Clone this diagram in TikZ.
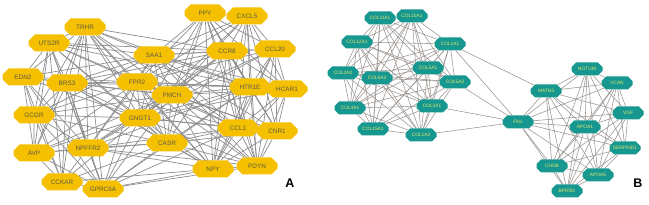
\documentclass[tikz,border=0pt]{standalone}
\usepackage{fontspec}
\setmainfont{Liberation Sans}
\usetikzlibrary{shapes.misc,backgrounds}
\definecolor{geneyel}{HTML}{F5C000}
\definecolor{geneteal}{HTML}{16978F}
\definecolor{yeltext}{HTML}{5E5C4A}
\definecolor{tealtext}{HTML}{E4E86E}
\definecolor{edgegray}{HTML}{8E8E8E}
\definecolor{edgebrown}{HTML}{9A9490}
\tikzset{
  yelgene/.style={chamfered rectangle, chamfered rectangle xsep=6pt, chamfered rectangle ysep=4pt,
    fill=geneyel, draw=none, text=yeltext, font=\fontsize{6.4}{7}\selectfont,
    minimum width=41pt, minimum height=17pt, inner sep=0pt},
  tealgene/.style={chamfered rectangle, chamfered rectangle xsep=4.5pt, chamfered rectangle ysep=3pt,
    fill=geneteal, draw=none, text=tealtext, font=\fontsize{4.8}{5}\selectfont,
    minimum width=31pt, minimum height=13pt, inner sep=0pt},
  alink/.style={draw=edgegray, line width=0.7pt},
  blink/.style={draw=edgebrown, line width=0.55pt},
  panel/.style={font=\fontsize{12.5}{13}\selectfont\bfseries},
}
\begin{document}
\begin{tikzpicture}[x=1pt,y=-1pt]
\useasboundingbox (0,0) rectangle (649,205);
% panel A nodes
\node[yelgene] (trhr) at (85,27) {TRHR};
\node[yelgene] (uts2r) at (49,43) {UTS2R};
\node[yelgene] (saa1) at (154,55) {SAA1};
\node[yelgene] (edn2) at (23,77) {EDN2};
\node[yelgene] (brs3) at (67,83) {BRS3};
\node[yelgene] (fpr2) at (137,82) {FPR2};
\node[yelgene] (pmch) at (172,95) {PMCH};
\node[yelgene] (gcgr) at (34,115) {GCGR};
\node[yelgene] (gngt1) at (140,118) {GNGT1};
\node[yelgene] (avp) at (34,153) {AVP};
\node[yelgene] (npffr2) at (88,148) {NPFFR2};
\node[yelgene] (casr) at (167,143) {CASR};
\node[yelgene] (cckar) at (62,182) {CCKAR};
\node[yelgene] (gprc6a) at (103,189) {GPRC6A};
\node[yelgene] (ppy) at (205,13) {PPY};
\node[yelgene] (cxcl5) at (247,16) {CXCL5};
\node[yelgene] (ccr8) at (227,51) {CCR8};
\node[yelgene] (ccl20) at (275,49) {CCL20};
\node[yelgene] (htr1e) at (250,87) {HTR1E};
\node[yelgene] (hcar1) at (287,89) {HCAR1};
\node[yelgene] (ccl1) at (238,128) {CCL1};
\node[yelgene] (cnr1) at (277,131) {CNR1};
\node[yelgene] (npy) at (213,169) {NPY};
\node[yelgene] (pdyn) at (257,166) {PDYN};
\node[panel] (labA) at (290,183) {A};
% panel B nodes
\node[tealgene] (c11a1) at (380,18) {COL11A1};
\node[tealgene] (c10a1) at (412,16) {COL10A1};
\node[tealgene] (c12a1) at (357,42) {COL12A1};
\node[tealgene] (c1a1) at (450,44) {COL1A1};
\node[tealgene] (c4a2) at (343,73) {COL4A2};
\node[tealgene] (c6a3) at (377,78) {COL6A3};
\node[tealgene] (c5a1) at (428,68) {COL5A1};
\node[tealgene] (c5a2) at (455,82) {COL5A2};
\node[tealgene] (c4a1) at (350,108) {COL4A1};
\node[tealgene] (c3a1) at (432,106) {COL3A1};
\node[tealgene] (c15a1) at (373,129) {COL15A1};
\node[tealgene] (c1a2) at (421,135) {COL1A2};
\node[tealgene] (notum) at (587,69) {NOTUM};
\node[tealgene] (vcan) at (617,83) {VCAN};
\node[tealgene] (matn3) at (546,91) {MATN3};
\node[tealgene] (fn1) at (518,122) {FN1};
\node[tealgene] (vgf) at (628,113) {VGF};
\node[tealgene] (apoa1) at (585,127) {APOA1};
\node[tealgene] (serpind1) at (625,148) {SERPIND1};
\node[tealgene] (chgb) at (552,166) {CHGB};
\node[tealgene] (apoa5) at (598,175) {APOA5};
\node[tealgene] (bpifb2) at (567,191) {BPIFB2};
\node[panel] (labB) at (638,183) {B};
\begin{scope}[on background layer]
% panel A links
\foreach \a/\b in {trhr/uts2r,trhr/edn2,trhr/brs3,trhr/gcgr,trhr/avp,trhr/npffr2,trhr/gprc6a,
  trhr/gngt1,trhr/fpr2,trhr/saa1,trhr/pmch,trhr/casr,trhr/ccr8,trhr/htr1e,trhr/ccl1,trhr/npy,trhr/cckar,
  uts2r/edn2,uts2r/brs3,uts2r/gcgr,uts2r/avp,uts2r/npffr2,uts2r/gngt1,uts2r/fpr2,uts2r/saa1,uts2r/pmch,
  uts2r/casr,uts2r/cckar,uts2r/gprc6a,uts2r/htr1e,uts2r/ccr8,
  edn2/brs3,edn2/gcgr,edn2/avp,edn2/cckar,edn2/npffr2,edn2/gngt1,edn2/fpr2,edn2/pmch,edn2/gprc6a,edn2/saa1,
  brs3/gcgr,brs3/avp,brs3/cckar,brs3/gprc6a,brs3/npffr2,brs3/gngt1,brs3/fpr2,brs3/saa1,brs3/pmch,
  brs3/casr,brs3/ccr8,brs3/htr1e,brs3/ccl1,brs3/npy,
  gcgr/avp,gcgr/cckar,gcgr/gprc6a,gcgr/npffr2,gcgr/gngt1,gcgr/fpr2,gcgr/pmch,gcgr/casr,gcgr/saa1,
  avp/cckar,avp/gprc6a,avp/npffr2,avp/gngt1,avp/casr,avp/fpr2,avp/pmch,
  cckar/gprc6a,cckar/npffr2,cckar/gngt1,cckar/casr,cckar/npy,
  gprc6a/npffr2,gprc6a/gngt1,gprc6a/casr,gprc6a/fpr2,gprc6a/npy,gprc6a/pdyn,gprc6a/ccl1,gprc6a/pmch,gprc6a/htr1e,
  npffr2/gngt1,npffr2/fpr2,npffr2/casr,npffr2/pmch,npffr2/saa1,npffr2/npy,npffr2/pdyn,npffr2/ccl1,
  npffr2/htr1e,npffr2/ccr8,
  gngt1/fpr2,gngt1/saa1,gngt1/pmch,gngt1/casr,gngt1/ppy,gngt1/cxcl5,gngt1/ccr8,gngt1/ccl20,gngt1/htr1e,
  gngt1/hcar1,gngt1/ccl1,gngt1/cnr1,gngt1/npy,gngt1/pdyn,
  fpr2/saa1,fpr2/pmch,fpr2/casr,fpr2/ppy,fpr2/cxcl5,fpr2/ccr8,fpr2/ccl20,fpr2/htr1e,fpr2/hcar1,
  fpr2/ccl1,fpr2/cnr1,fpr2/npy,fpr2/pdyn,
  saa1/pmch,saa1/casr,saa1/ppy,saa1/cxcl5,saa1/ccr8,saa1/ccl20,saa1/htr1e,saa1/hcar1,saa1/ccl1,
  saa1/cnr1,saa1/pdyn,
  pmch/casr,pmch/ppy,pmch/cxcl5,pmch/ccr8,pmch/ccl20,pmch/htr1e,pmch/hcar1,pmch/ccl1,pmch/cnr1,
  pmch/npy,pmch/pdyn,
  casr/ccr8,casr/htr1e,casr/ccl1,casr/npy,casr/pdyn,casr/cnr1,casr/ppy,
  ppy/cxcl5,ppy/ccr8,ppy/ccl20,ppy/htr1e,ppy/hcar1,ppy/ccl1,ppy/cnr1,ppy/npy,ppy/pdyn,
  cxcl5/ccr8,cxcl5/ccl20,cxcl5/htr1e,cxcl5/hcar1,cxcl5/ccl1,cxcl5/cnr1,cxcl5/npy,cxcl5/pdyn,
  ccr8/ccl20,ccr8/htr1e,ccr8/hcar1,ccr8/ccl1,ccr8/cnr1,ccr8/npy,ccr8/pdyn,
  ccl20/htr1e,ccl20/hcar1,ccl20/ccl1,ccl20/cnr1,ccl20/npy,ccl20/pdyn,
  htr1e/hcar1,htr1e/ccl1,htr1e/cnr1,htr1e/npy,htr1e/pdyn,
  hcar1/ccl1,hcar1/cnr1,hcar1/npy,hcar1/pdyn,
  ccl1/cnr1,ccl1/npy,ccl1/pdyn,cnr1/npy,cnr1/pdyn,npy/pdyn}
  \draw[alink] (\a) -- (\b);
% panel B links: collagen cluster
\foreach \a [count=\i] in {c11a1,c10a1,c12a1,c1a1,c4a2,c6a3,c5a1,c5a2,c4a1,c3a1,c15a1,c1a2}{
  \foreach \b [count=\j] in {c11a1,c10a1,c12a1,c1a1,c4a2,c6a3,c5a1,c5a2,c4a1,c3a1,c15a1,c1a2}{
    \ifnum\j>\i \draw[blink] (\a) -- (\b); \fi}}
% panel B links: right cluster
\foreach \a [count=\i] in {notum,vcan,matn3,vgf,apoa1,serpind1,chgb,apoa5,bpifb2}{
  \foreach \b [count=\j] in {notum,vcan,matn3,vgf,apoa1,serpind1,chgb,apoa5,bpifb2}{
    \ifnum\j>\i \draw[blink] (\a) -- (\b); \fi}}
\foreach \a/\b in {fn1/matn3,fn1/notum,fn1/vcan,fn1/vgf,fn1/apoa1,fn1/serpind1,fn1/chgb,fn1/apoa5,
  fn1/bpifb2,c1a1/matn3,c1a1/fn1,c5a2/fn1,c3a1/fn1,c1a2/fn1}
  \draw[blink] (\a) -- (\b);
\end{scope}
\end{tikzpicture}
\end{document}
